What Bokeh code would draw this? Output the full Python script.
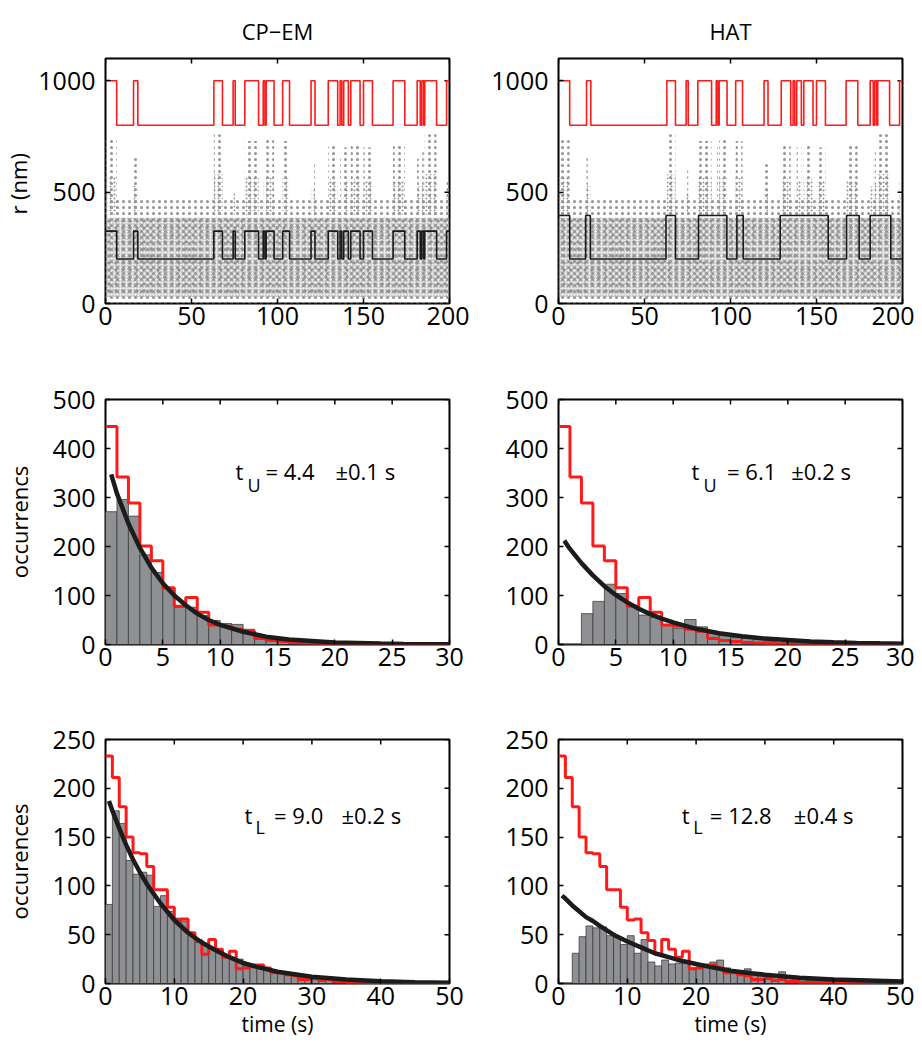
import math
from bokeh.plotting import figure
from bokeh.layouts import column, row
from bokeh.models import Range1d, FixedTicker
from bokeh.embed import file_html
from bokeh.resources import INLINE

# ---------------- data ----------------
time_span = [0, 200]
# switching times of the true state (starts in the high / unlooped state)
true_switch = [6.5, 16.3, 18.8, 63.0, 68.0, 74.2, 75.4, 81.0, 89.0, 91.7, 92.7, 93.4,
               98.0, 103.0, 107.0, 119.5, 121.8, 129.5, 135.0, 136.4, 137.4, 138.5,
               141.2, 142.6, 148.0, 150.0, 155.2, 167.2, 174.0, 181.2, 183.0, 183.9,
               185.0, 185.6, 192.5, 198.3]
true_levels = [800, 1000]
cpem_switch = [6.5, 16.3, 18.8, 63.0, 68.0, 74.2, 75.4, 81.0, 89.0, 91.7, 92.7, 93.4,
               98.0, 103.0, 107.0, 119.5, 121.8, 129.5, 135.0, 136.4, 137.4, 138.5,
               141.2, 142.6, 148.0, 150.0, 155.2, 167.2, 174.0, 181.2, 183.0, 183.9,
               185.0, 185.6, 192.5, 198.3]
cpem_levels = [200, 325]
hat_switch = [6.5, 15.8, 18.5, 62.5, 68.0, 81.4, 97.9, 103.7, 107.4, 128.9, 156.8,
              167.5, 174.8, 181.2, 193.2]
hat_levels = [200, 395]
# raw distance cloud: dense core, fringe, and excursions during unlooped periods
noise_core = [30, 385]
noise_fringe = [0, 465]
spike_base = 400
spike_peak = [740, 660, 760, 600, 730, 700, 745, 730, 640, 720, 650, 700, 720, 700,
              710, 650, 680, 760, 560]

# unlooped dwell-time histograms (1 s bins, 0-30 s)
u_true = [445, 342, 289, 201, 171, 116, 78, 96, 66, 40, 37, 31, 27, 12, 8, 6, 4, 3, 2, 1,
          1, 0, 0, 0, 0, 0, 0, 0, 0, 0]
u_cpem = [271, 296, 262, 183, 147, 114, 76, 76, 59, 49, 43, 41, 31, 18, 12, 10, 7, 5, 3, 2,
          1, 1, 1, 0, 0, 0, 0, 0, 0, 0]
u_hat = [0, 0, 63, 88, 123, 104, 78, 60, 55, 39, 33, 51, 36, 26, 18, 14, 13, 12, 7, 5,
         4, 3, 2, 2, 1, 1, 1, 0, 0, 0]
u_fit_x = [0.5, 1, 2, 3, 4, 5, 6, 7, 8, 9, 10, 12, 14, 16, 18, 20, 22, 24, 26, 28, 30]
u_fit_cpem = [347, 308, 247, 197, 157, 125, 100, 80, 63, 50, 40, 26, 16, 10, 7, 4, 3, 2,
              1.2, 0.7, 0.4]
u_fit_hat = [212, 195, 166, 141, 119, 101, 86, 73, 62, 53, 45, 32, 23, 17, 12, 9, 6, 4.5,
             3.2, 2.3, 1.7]

# looped dwell-time histograms (1 s bins, 0-50 s)
l_true = [233, 211, 181, 150, 134, 133, 120, 96, 96, 78, 65, 66, 52, 44, 30, 45, 35, 27,
          33, 15, 16, 19, 19, 16, 11, 11, 9, 8, 4, 4, 5, 3, 4, 2, 2, 1, 1, 1, 1, 1,
          0, 0, 0, 0, 0, 0, 0, 0, 0, 0]
l_cpem = [81, 177, 164, 126, 112, 114, 111, 79, 90, 74, 67, 64, 49, 42, 40, 35, 31, 29,
          27, 25, 19, 19, 17, 16, 12, 11, 9, 8, 6, 5, 4, 3, 3, 2, 2, 2, 1, 1, 1, 1,
          3, 1, 1, 0, 0, 0, 0, 0, 0, 0]
l_hat = [0, 0, 31, 48, 59, 57, 58, 49, 48, 40, 49, 31, 45, 22, 18, 24, 20, 21, 23, 16,
         17, 18, 22, 24, 16, 13, 12, 15, 9, 8, 7, 7, 12, 6, 5, 4, 3, 3, 2, 2,
         2, 1, 1, 1, 1, 1, 1, 0, 0, 0]
l_fit_x = [0.5, 1, 2, 3, 4, 5, 6, 8, 10, 12, 14, 16, 18, 20, 22, 25, 28, 30, 35, 40, 45, 50]
l_fit_cpem = [187, 177, 159, 142, 127, 114, 102, 82, 65, 52, 42, 34, 27, 21, 17, 12, 9,
              7, 4, 2.3, 1.3, 0.8]
l_fit_hat = [90, 87, 80, 74, 68, 64, 59, 50, 43, 37, 31, 27, 23, 20, 17, 13, 10.5, 9,
             6, 4, 3, 2]

# ---------------- style ----------------
FONT = "Open Sans"
TICK_FS = "25px"
RED = "#ff1a1a"
DOT = "#939393"
BAR = "#8f9093"
BAR_EDGE = "#3d3d3d"
FIT = "#1c1c1c"


def style_axis(ax, ticks, standoff):
    ax.ticker = FixedTicker(ticks=ticks)
    ax.axis_line_color = None
    ax.major_tick_line_color = "black"
    ax.major_tick_line_width = 1.5
    ax.major_tick_in = 5
    ax.major_tick_out = 0
    ax.minor_tick_line_color = None
    ax.major_label_standoff = standoff
    ax.major_label_text_font = FONT
    ax.major_label_text_font_size = TICK_FS
    ax.major_label_text_color = "black"
    ax.axis_label_text_font = FONT
    ax.axis_label_text_font_style = "normal"
    ax.axis_label_text_color = "black"


def make_fig(xr, yr, xticks, yticks, borders, fh, title=None, ylab=None, ylab_off=0,
             xlab=None):
    lb, rb, tb, bb = borders
    p = figure(frame_width=344, frame_height=fh, x_range=Range1d(*xr), y_range=Range1d(*yr),
               output_backend="svg", toolbar_location=None,
               min_border_left=lb, min_border_right=rb, min_border_top=tb,
               min_border_bottom=bb)
    p.xgrid.visible = False
    p.ygrid.visible = False
    p.outline_line_color = "black"
    p.outline_line_width = 2
    p.background_fill_color = "white"
    p.border_fill_color = "white"
    style_axis(p.xaxis[0], xticks, 3)
    style_axis(p.yaxis[0], yticks, 10)
    if ylab:
        p.yaxis[0].axis_label = ylab
        p.yaxis[0].axis_label_text_font_size = "22px"
        p.yaxis[0].axis_label_standoff = ylab_off
    if xlab:
        p.xaxis[0].axis_label = xlab
        p.xaxis[0].axis_label_text_font_size = "21px"
        p.xaxis[0].axis_label_standoff = 2
    if title:
        p.title.text = title
        p.title.align = "center"
        p.title.text_font = FONT
        p.title.text_font_size = "22px"
        p.title.text_font_style = "normal"
        p.title.text_color = "black"
        p.title.standoff = 26
    # inward ticks on the top and right frame edges (mirrors of the axes)
    p.scatter(xticks, [yr[1]] * len(xticks), marker="dash", angle=math.pi / 2, size=10,
              line_color="black", line_width=1.5)
    p.scatter([xr[1]] * len(yticks), yticks, marker="dash", size=10,
              line_color="black", line_width=1.5)
    return p


def add_text(p, x, y, text, size):
    p.text(x=[x], y=[y], text=[text], text_font={"value": FONT}, text_font_size=size,
           text_align="left", text_baseline="alphabetic", text_color="black")


def step_xy(switch, levels, t0, t1):
    xs = [t0] + list(switch) + [t1]
    ys = []
    high = True
    for _ in range(len(xs) - 1):
        ys.append(levels[1] if high else levels[0])
        high = not high
    ys.append(ys[-1])
    return xs, ys


def high_intervals(switch, t0, t1):
    xs = [t0] + list(switch) + [t1]
    return [(xs[i], xs[i + 1]) for i in range(0, len(xs) - 1, 2)]


def dots(p, left, right, bottom, top, scale, weight=1.4, fill_alpha=0.0):
    p.quad(left=left, right=right, bottom=bottom, top=top, fill_color=DOT,
           fill_alpha=fill_alpha, line_alpha=0,
           hatch_pattern=".", hatch_color=DOT, hatch_scale=scale, hatch_weight=weight)


def top_panel(est_switch, est_levels, borders, title, ylab):
    p = make_fig(time_span, (0, 1100), [0, 50, 100, 150, 200], [0, 500, 1000], borders,
                 245, title=title, ylab=ylab, ylab_off=2)
    t0, t1 = time_span
    dots(p, [t0], [t1], [noise_fringe[0]], [noise_fringe[1]], 6)
    dots(p, [t0], [t1], [noise_core[0]], [noise_core[1]], 3, weight=1.5, fill_alpha=0.22)
    dots(p, [t0], [t1], [noise_core[0]], [noise_core[1]], 7, weight=1.8)
    iv = high_intervals(true_switch, t0, t1)
    dots(p, [a for a, b in iv], [b for a, b in iv], [spike_base] * len(iv), spike_peak, 6)
    dots(p, [a for a, b in iv], [b for a, b in iv], [spike_base] * len(iv),
         [0.5 * (spike_base + v) for v in spike_peak], 4)
    xs, ys = step_xy(true_switch, true_levels, t0, t1)
    p.step(xs, ys, mode="after", line_color=RED, line_width=1.6)
    xs, ys = step_xy(est_switch, est_levels, t0, t1)
    p.step(xs, ys, mode="after", line_color="#1a1a1a", line_width=1.6)
    return p


def hist_panel(xmax, ymax, xticks, yticks, true_c, est_c, fit_x, fit_y, borders, fh,
               ylab=None, xlab=None):
    p = make_fig((0, xmax), (0, ymax), xticks, yticks, borders, fh, ylab=ylab,
                 ylab_off=16, xlab=xlab)
    edges = list(range(len(est_c) + 1))
    p.quad(left=edges[:-1], right=edges[1:], bottom=0, top=est_c,
           fill_color=BAR, line_color=BAR_EDGE, line_width=0.8)
    p.step(edges, list(true_c) + [true_c[-1]], mode="after", line_color=RED, line_width=3)
    p.line(fit_x, fit_y, line_color=FIT, line_width=4.5)
    return p


# top row
p11 = top_panel(cpem_switch, cpem_levels, (97, 20, 53, 50), "CP\u2212EM", "r  (nm)")
p12 = top_panel(hat_switch, hat_levels, (89, 12, 53, 50), "HAT", None)

# middle row
p21 = hist_panel(30, 500, [0, 5, 10, 15, 20, 25, 30], [0, 100, 200, 300, 400, 500],
                 u_true, u_cpem, u_fit_x, u_fit_cpem, (97, 20, 46, 50), 245,
                 ylab="occurrencs")
p22 = hist_panel(30, 500, [0, 5, 10, 15, 20, 25, 30], [0, 100, 200, 300, 400, 500],
                 u_true, u_hat, u_fit_x, u_fit_hat, (89, 12, 46, 50), 245)
add_text(p21, 11.33, 355, "t", "22px")
add_text(p21, 12.38, 326, "U", "18px")
add_text(p21, 13.95, 355, "= 4.4", "22px")
add_text(p21, 20.05, 355, "\u00b10.1 s", "22px")
add_text(p22, 11.6, 355, "t", "22px")
add_text(p22, 12.65, 326, "U", "18px")
add_text(p22, 14.7, 355, "= 6.1", "22px")
add_text(p22, 20.3, 355, "\u00b10.2 s", "22px")

# bottom row
p31 = hist_panel(50, 250, [0, 10, 20, 30, 40, 50], [0, 50, 100, 150, 200, 250],
                 l_true, l_cpem, l_fit_x, l_fit_cpem, (97, 20, 45, 56), 244,
                 ylab="occurences", xlab="time (s)")
p32 = hist_panel(50, 250, [0, 10, 20, 30, 40, 50], [0, 50, 100, 150, 200, 250],
                 l_true, l_hat, l_fit_x, l_fit_hat, (89, 12, 45, 56), 244,
                 xlab="time (s)")
add_text(p31, 20.2, 173, "t", "22px")
add_text(p31, 21.8, 160, "L", "18px")
add_text(p31, 24.5, 173, "= 9.0", "22px")
add_text(p31, 34.3, 173, "\u00b10.2 s", "22px")
add_text(p32, 17.9, 173, "t", "22px")
add_text(p32, 19.6, 160, "L", "18px")
add_text(p32, 22.0, 173, "= 12.8", "22px")
add_text(p32, 34.2, 173, "\u00b10.4 s", "22px")

layout = column(row(p11, p12), row(p21, p22), row(p31, p32))
open("out.html", "w").write(file_html(layout, INLINE))
